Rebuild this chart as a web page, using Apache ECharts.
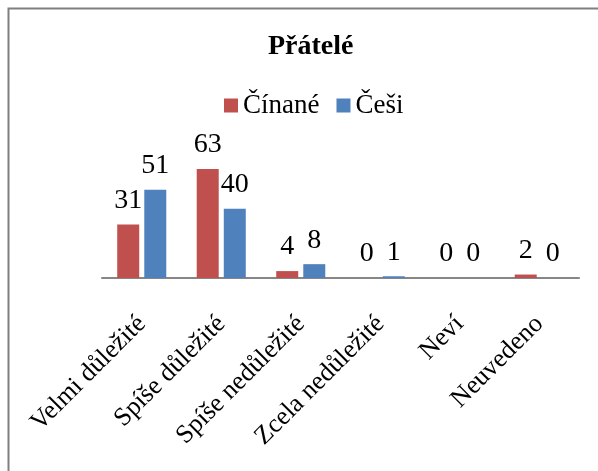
<!DOCTYPE html>
<html>
<head>
<meta charset="utf-8">
<script src="https://cdn.jsdelivr.net/npm/echarts@6/dist/echarts.min.js"></script>
<style>
  html, body { margin: 0; padding: 0; background: #fff; }
  #myChart { width: 598px; height: 471px; }
</style>
</head>
<body>
<div id="myChart"></div>
<script>
// data
var categories = ['Velmi důležité', 'Spíše důležité', 'Spíše nedůležité', 'Zcela nedůležité', 'Neví', 'Neuvedeno']
var cinane = [31, 63, 4, 0, 0, 2]
var cesi = [51, 40, 8, 1, 0, 0]

var serif = '"Liberation Serif", "Times New Roman", serif'

var myChart = echarts.init(document.getElementById('myChart'))
myChart.setOption({
  animation: false,
  backgroundColor: '#fff',
  textStyle: { fontFamily: serif },
  graphic: [
    {
      type: 'rect',
      shape: { x: 8.5, y: 8.5, width: 700, height: 600 },
      style: { fill: 'none', stroke: '#808080', lineWidth: 2 }
    }
  ],
  title: {
    text: 'Přátelé',
    left: 263,
    top: 28,
    textStyle: { fontFamily: serif, fontSize: 28, fontWeight: 'bold', color: '#000' }
  },
  legend: {
    top: 87,
    left: 219,
    itemWidth: 14,
    itemHeight: 14,
    itemGap: 17,
    icon: 'rect',
    textStyle: { fontFamily: serif, fontSize: 27, color: '#000' },
    data: ['Čínané', 'Češi']
  },
  grid: { left: 102, right: 19, top: 157, bottom: 193 },
  xAxis: {
    type: 'category',
    data: categories,
    axisLine: { lineStyle: { color: '#868686', width: 2 } },
    axisTick: { show: false },
    axisLabel: {
      rotate: 45,
      interval: 0,
      margin: 42,
      fontFamily: serif,
      fontSize: 26,
      color: '#000'
    }
  },
  yAxis: { type: 'value', min: 0, max: 70, show: false },
  series: [
    {
      name: 'Čínané',
      type: 'bar',
      data: cinane,
      barWidth: 22,
      barGap: '23%',
      itemStyle: { color: '#C0504D' },
      label: { show: true, position: 'top', distance: 10, fontFamily: serif, fontSize: 28, color: '#000' }
    },
    {
      name: 'Češi',
      type: 'bar',
      data: cesi,
      barWidth: 22,
      barGap: '23%',
      itemStyle: { color: '#4F81BD' },
      label: { show: true, position: 'top', distance: 10, fontFamily: serif, fontSize: 28, color: '#000' }
    }
  ]
})
</script>
</body>
</html>
